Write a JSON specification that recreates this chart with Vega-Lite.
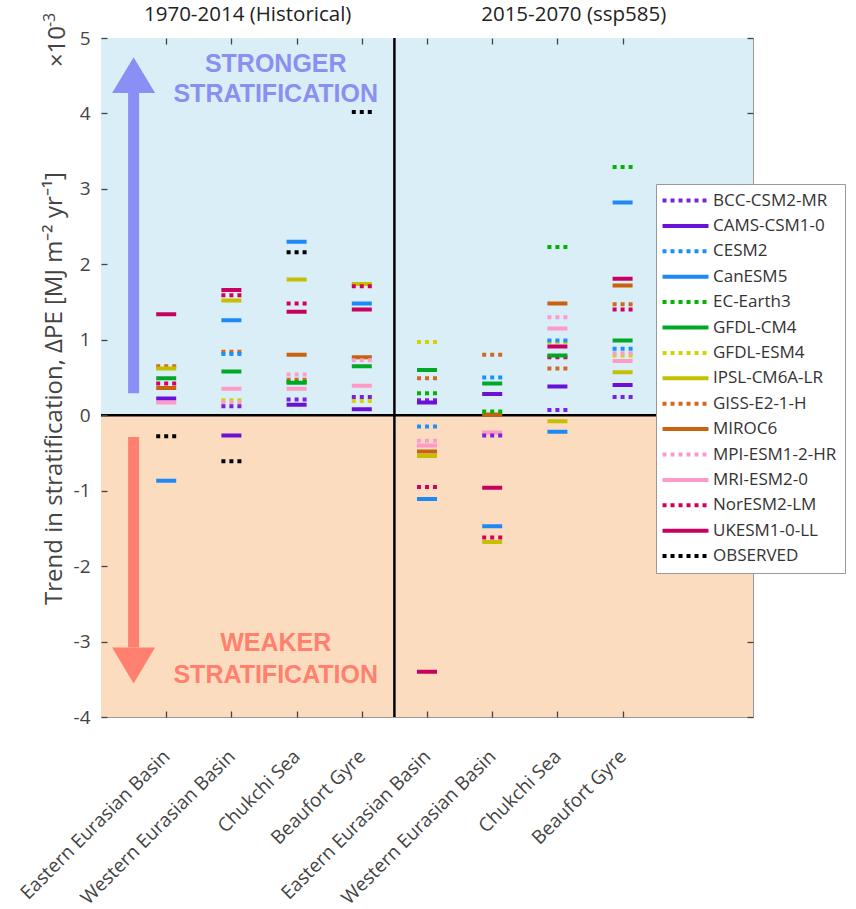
{
  "$schema": "https://vega.github.io/schema/vega-lite/v6.json",
  "width": 652,
  "height": 679,
  "autosize": {"type": "none"},
  "padding": {"left": 101, "top": 38, "right": 103, "bottom": 192},
  "background": "white",
  "config": {
    "view": {"stroke": "#999", "strokeWidth": 1},
    "font": "Open Sans",
    "axis": {"grid": false, "domain": false, "ticks": true, "tickColor": "#444", "tickWidth": 1.3, "tickSize": 6, "offset": -6, "zindex": 2}
  },
  "resolve": {"axis": {"x": "independent", "y": "independent"}},
  "layer": [
    {
      "data": {"values": [{"zone": "stronger", "lo": 0, "hi": 5}, {"zone": "weaker", "lo": -4, "hi": 0}]},
      "mark": {"type": "rect"},
      "encoding": {
        "x": {"datum": 0, "type": "quantitative", "scale": {"domain": [0, 10], "nice": false, "zero": false},
              "axis": {"orient": "top", "labels": false, "ticks": true, "tickSize": 6, "tickColor": "#444", "values": [1, 2, 3, 4, 5, 6, 7, 8], "title": null, "zindex": 2}},
        "x2": {"datum": 10},
        "y": {"field": "lo", "type": "quantitative", "scale": {"domain": [-4, 5], "nice": false},
              "axis": {"orient": "right", "labels": false, "ticks": true, "tickSize": 6, "tickColor": "#444", "values": [-4, -3, -2, -1, 0, 1, 2, 3, 4, 5], "title": null, "zindex": 2}},
        "y2": {"field": "hi"},
        "fill": {"field": "zone", "type": "nominal", "scale": {"domain": ["stronger", "weaker"], "range": ["#d9eef6", "#fcdcbf"]}, "legend": null}
      }
    },
    {
      "data": {"values": [{}]},
      "mark": {"type": "rule", "color": "black", "strokeWidth": 2.5},
      "encoding": {
        "x": {"datum": 4.5, "type": "quantitative", "axis": null},
        "y": {"datum": -4, "type": "quantitative", "axis": null},
        "y2": {"datum": 5}
      }
    },
    {
      "data": {"values": [{}]},
      "mark": {"type": "rule", "color": "black", "strokeWidth": 2.5},
      "encoding": {
        "x": {"datum": 0, "type": "quantitative", "axis": null},
        "x2": {"datum": 10},
        "y": {"datum": 0, "type": "quantitative", "axis": null}
      }
    },
    {
      "data": {"values": [{}]},
      "mark": {"type": "rule", "color": "#8a8ff5", "strokeWidth": 11, "strokeCap": "butt"},
      "encoding": {
        "x": {"datum": 0.5, "type": "quantitative", "axis": null},
        "y": {"datum": 0.29, "type": "quantitative", "axis": null},
        "y2": {"datum": 4.27}
      }
    },
    {
      "data": {"values": [{}]},
      "mark": {"type": "point", "shape": "M-1,0L1,0L0,-1.67Z", "size": 1849, "filled": true, "opacity": 1, "color": "#8a8ff5", "strokeWidth": 0},
      "encoding": {
        "x": {"datum": 0.5, "type": "quantitative", "axis": null},
        "y": {"datum": 4.27, "type": "quantitative", "axis": null}
      }
    },
    {
      "data": {"values": [{}]},
      "mark": {"type": "rule", "color": "#ff806e", "strokeWidth": 11, "strokeCap": "butt"},
      "encoding": {
        "x": {"datum": 0.5, "type": "quantitative", "axis": null},
        "y": {"datum": -0.29, "type": "quantitative", "axis": null},
        "y2": {"datum": -3.08}
      }
    },
    {
      "data": {"values": [{}]},
      "mark": {"type": "point", "shape": "M-1,0L1,0L0,1.67Z", "size": 1849, "filled": true, "opacity": 1, "color": "#ff806e", "strokeWidth": 0},
      "encoding": {
        "x": {"datum": 0.5, "type": "quantitative", "axis": null},
        "y": {"datum": -3.08, "type": "quantitative", "axis": null}
      }
    },
    {
      "data": {"values": [{}]},
      "mark": {"type": "text", "font": "Liberation Sans", "fontWeight": "bold", "fontSize": 25, "color": "#8a8ff0", "align": "center", "baseline": "middle", "lineHeight": 30},
      "encoding": {
        "x": {"datum": 2.68, "type": "quantitative", "axis": null},
        "y": {"datum": 4.66, "type": "quantitative", "axis": null},
        "text": {"value": ["STRONGER", "STRATIFICATION"]}
      }
    },
    {
      "data": {"values": [{}]},
      "mark": {"type": "text", "font": "Liberation Sans", "fontWeight": "bold", "fontSize": 25, "color": "#ff806e", "align": "center", "baseline": "middle", "lineHeight": 32},
      "encoding": {
        "x": {"datum": 2.68, "type": "quantitative", "axis": null},
        "y": {"datum": -3.02, "type": "quantitative", "axis": null},
        "text": {"value": ["WEAKER", "STRATIFICATION"]}
      }
    },
    {
      "data": {"values": [
        {"s": 1, "m": "UKESM1-0-LL", "v": 1.34},
        {"s": 1, "m": "GISS-E2-1-H", "v": 0.65},
        {"s": 1, "m": "IPSL-CM6A-LR", "v": 0.62},
        {"s": 1, "m": "GFDL-CM4", "v": 0.49},
        {"s": 1, "m": "NorESM2-LM", "v": 0.42},
        {"s": 1, "m": "MIROC6", "v": 0.36},
        {"s": 1, "m": "CAMS-CSM1-0", "v": 0.22},
        {"s": 1, "m": "MRI-ESM2-0", "v": 0.17},
        {"s": 1, "m": "OBSERVED", "v": -0.28},
        {"s": 1, "m": "CanESM5", "v": -0.87},
        {"s": 2, "m": "UKESM1-0-LL", "v": 1.66},
        {"s": 2, "m": "NorESM2-LM", "v": 1.59},
        {"s": 2, "m": "IPSL-CM6A-LR", "v": 1.52},
        {"s": 2, "m": "CanESM5", "v": 1.26},
        {"s": 2, "m": "GISS-E2-1-H", "v": 0.84},
        {"s": 2, "m": "CESM2", "v": 0.81},
        {"s": 2, "m": "GFDL-CM4", "v": 0.58},
        {"s": 2, "m": "MRI-ESM2-0", "v": 0.35},
        {"s": 2, "m": "GFDL-ESM4", "v": 0.20},
        {"s": 2, "m": "MPI-ESM1-2-HR", "v": 0.17},
        {"s": 2, "m": "BCC-CSM2-MR", "v": 0.12},
        {"s": 2, "m": "CAMS-CSM1-0", "v": -0.27},
        {"s": 2, "m": "OBSERVED", "v": -0.61},
        {"s": 3, "m": "CanESM5", "v": 2.30},
        {"s": 3, "m": "OBSERVED", "v": 2.16},
        {"s": 3, "m": "IPSL-CM6A-LR", "v": 1.80},
        {"s": 3, "m": "NorESM2-LM", "v": 1.48},
        {"s": 3, "m": "UKESM1-0-LL", "v": 1.37},
        {"s": 3, "m": "MIROC6", "v": 0.80},
        {"s": 3, "m": "MPI-ESM1-2-HR", "v": 0.54},
        {"s": 3, "m": "GISS-E2-1-H", "v": 0.47},
        {"s": 3, "m": "EC-Earth3", "v": 0.44},
        {"s": 3, "m": "GFDL-CM4", "v": 0.43},
        {"s": 3, "m": "MRI-ESM2-0", "v": 0.35},
        {"s": 3, "m": "BCC-CSM2-MR", "v": 0.21},
        {"s": 3, "m": "CAMS-CSM1-0", "v": 0.14},
        {"s": 4, "m": "OBSERVED", "v": 4.02},
        {"s": 4, "m": "IPSL-CM6A-LR", "v": 1.74},
        {"s": 4, "m": "NorESM2-LM", "v": 1.71},
        {"s": 4, "m": "CanESM5", "v": 1.48},
        {"s": 4, "m": "UKESM1-0-LL", "v": 1.40},
        {"s": 4, "m": "MIROC6", "v": 0.77},
        {"s": 4, "m": "MPI-ESM1-2-HR", "v": 0.73},
        {"s": 4, "m": "GFDL-CM4", "v": 0.65},
        {"s": 4, "m": "MRI-ESM2-0", "v": 0.39},
        {"s": 4, "m": "BCC-CSM2-MR", "v": 0.24},
        {"s": 4, "m": "GFDL-ESM4", "v": 0.19},
        {"s": 4, "m": "CAMS-CSM1-0", "v": 0.08},
        {"s": 5, "m": "GFDL-ESM4", "v": 0.97},
        {"s": 5, "m": "GFDL-CM4", "v": 0.60},
        {"s": 5, "m": "GISS-E2-1-H", "v": 0.49},
        {"s": 5, "m": "EC-Earth3", "v": 0.29},
        {"s": 5, "m": "BCC-CSM2-MR", "v": 0.20},
        {"s": 5, "m": "CAMS-CSM1-0", "v": 0.17},
        {"s": 5, "m": "CESM2", "v": -0.15},
        {"s": 5, "m": "MPI-ESM1-2-HR", "v": -0.34},
        {"s": 5, "m": "MRI-ESM2-0", "v": -0.40},
        {"s": 5, "m": "MIROC6", "v": -0.48},
        {"s": 5, "m": "IPSL-CM6A-LR", "v": -0.54},
        {"s": 5, "m": "NorESM2-LM", "v": -0.95},
        {"s": 5, "m": "CanESM5", "v": -1.11},
        {"s": 5, "m": "UKESM1-0-LL", "v": -3.40},
        {"s": 6, "m": "GISS-E2-1-H", "v": 0.80},
        {"s": 6, "m": "CESM2", "v": 0.50},
        {"s": 6, "m": "GFDL-CM4", "v": 0.42},
        {"s": 6, "m": "CAMS-CSM1-0", "v": 0.28},
        {"s": 6, "m": "MIROC6", "v": 0.01},
        {"s": 6, "m": "EC-Earth3", "v": 0.05},
        {"s": 6, "m": "MRI-ESM2-0", "v": -0.23},
        {"s": 6, "m": "BCC-CSM2-MR", "v": -0.27},
        {"s": 6, "m": "UKESM1-0-LL", "v": -0.96},
        {"s": 6, "m": "CanESM5", "v": -1.47},
        {"s": 6, "m": "IPSL-CM6A-LR", "v": -1.68},
        {"s": 6, "m": "NorESM2-LM", "v": -1.62},
        {"s": 7, "m": "EC-Earth3", "v": 2.23},
        {"s": 7, "m": "MIROC6", "v": 1.48},
        {"s": 7, "m": "MPI-ESM1-2-HR", "v": 1.30},
        {"s": 7, "m": "MRI-ESM2-0", "v": 1.15},
        {"s": 7, "m": "GFDL-ESM4", "v": 0.97},
        {"s": 7, "m": "CESM2", "v": 0.99},
        {"s": 7, "m": "UKESM1-0-LL", "v": 0.91},
        {"s": 7, "m": "NorESM2-LM", "v": 0.77},
        {"s": 7, "m": "GFDL-CM4", "v": 0.79},
        {"s": 7, "m": "GISS-E2-1-H", "v": 0.62},
        {"s": 7, "m": "CAMS-CSM1-0", "v": 0.38},
        {"s": 7, "m": "BCC-CSM2-MR", "v": 0.07},
        {"s": 7, "m": "IPSL-CM6A-LR", "v": -0.08},
        {"s": 7, "m": "CanESM5", "v": -0.22},
        {"s": 8, "m": "EC-Earth3", "v": 3.29},
        {"s": 8, "m": "CanESM5", "v": 2.82},
        {"s": 8, "m": "UKESM1-0-LL", "v": 1.81},
        {"s": 8, "m": "MIROC6", "v": 1.72},
        {"s": 8, "m": "GISS-E2-1-H", "v": 1.47},
        {"s": 8, "m": "NorESM2-LM", "v": 1.40},
        {"s": 8, "m": "GFDL-CM4", "v": 0.99},
        {"s": 8, "m": "CESM2", "v": 0.88},
        {"s": 8, "m": "GFDL-ESM4", "v": 0.79},
        {"s": 8, "m": "MPI-ESM1-2-HR", "v": 0.82},
        {"s": 8, "m": "MRI-ESM2-0", "v": 0.72},
        {"s": 8, "m": "IPSL-CM6A-LR", "v": 0.57},
        {"s": 8, "m": "CAMS-CSM1-0", "v": 0.40},
        {"s": 8, "m": "BCC-CSM2-MR", "v": 0.24}
      ]},
      "mark": {"type": "point", "shape": "M-4,0L4,0", "filled": false, "size": 25, "strokeWidth": 4, "opacity": 1, "strokeCap": "butt"},
      "encoding": {
        "x": {"field": "s", "type": "quantitative",
              "axis": {"orient": "bottom", "title": null, "values": [1, 2, 3, 4, 5, 6, 7, 8], "ticks": true, "tickSize": 6, "tickColor": "#444", "zindex": 2,
                       "labelExpr": "['','Eastern Eurasian Basin','Western Eurasian Basin','Chukchi Sea','Beaufort Gyre','Eastern Eurasian Basin','Western Eurasian Basin','Chukchi Sea','Beaufort Gyre'][datum.value]",
                       "labelAngle": -45, "labelAlign": "right", "labelBaseline": "middle", "labelPadding": 36,
                       "labelOverlap": false, "labelLimit": 0, "labelBound": false, "labelFlush": false,
                       "labelFontSize": 19, "labelColor": "#444", "labelFont": "Open Sans"}},
        "y": {"field": "v", "type": "quantitative",
              "axis": {"orient": "left", "values": [-4, -3, -2, -1, 0, 1, 2, 3, 4, 5], "ticks": true, "tickSize": 6, "tickColor": "#444", "zindex": 2,
                       "labelExpr": "datum.value < 0 ? '-' + abs(datum.value) : '' + datum.value",
                       "labelFontSize": 19, "labelColor": "#444", "labelPadding": 11, "labelOverlap": false,
                       "title": "Trend in stratification, ΔPE [MJ m⁻² yr⁻¹]",
                       "titleFontSize": 24, "titleFontWeight": "normal", "titleColor": "#444", "titleFont": "Open Sans",
                       "titleX": -53, "titleY": 350, "titleBaseline": "middle", "titleAngle": -90}},
        "color": {"field": "m", "type": "nominal",
                  "scale": {"domain": ["BCC-CSM2-MR", "CAMS-CSM1-0", "CESM2", "CanESM5", "EC-Earth3", "GFDL-CM4", "GFDL-ESM4", "IPSL-CM6A-LR", "GISS-E2-1-H", "MIROC6", "MPI-ESM1-2-HR", "MRI-ESM2-0", "NorESM2-LM", "UKESM1-0-LL", "OBSERVED"],
                            "range": ["#7b1fe3", "#6b10d6", "#1a8fff", "#1e88f5", "#00b400", "#00a825", "#d4d400", "#c4c000", "#d2691e", "#c8620c", "#ff9ccf", "#ff9ac8", "#d4005e", "#c8005f", "#000000"]},
                  "legend": {"title": null, "orient": "none", "legendX": 555, "legendY": 146, "zindex": 5,
                             "fillColor": "white", "strokeColor": "#999", "padding": 8,
                             "labelFontSize": 17, "labelFont": "Open Sans", "labelColor": "#333",
                             "symbolType": "M-4,0L4,0", "symbolSize": 132, "symbolStrokeWidth": 4,
                             "symbolOffset": 13, "labelOffset": 19, "rowPadding": 7.4, "symbolFillColor": "transparent"}},
        "strokeDash": {"field": "m", "type": "nominal",
                       "scale": {"domain": ["BCC-CSM2-MR", "CAMS-CSM1-0", "CESM2", "CanESM5", "EC-Earth3", "GFDL-CM4", "GFDL-ESM4", "IPSL-CM6A-LR", "GISS-E2-1-H", "MIROC6", "MPI-ESM1-2-HR", "MRI-ESM2-0", "NorESM2-LM", "UKESM1-0-LL", "OBSERVED"],
                                 "range": [[4, 4], [1, 0], [4, 4], [1, 0], [4, 4], [1, 0], [4, 4], [1, 0], [4, 4], [1, 0], [4, 4], [1, 0], [4, 4], [1, 0], [4, 4]]},
                       "legend": {"title": null, "orient": "none", "legendX": 555, "legendY": 146, "zindex": 5,
                                  "fillColor": "white", "strokeColor": "#999", "padding": 8,
                                  "labelFontSize": 17, "labelFont": "Open Sans", "labelColor": "#333",
                                  "symbolType": "M-4,0L4,0", "symbolSize": 132, "symbolStrokeWidth": 4,
                                  "symbolOffset": 13, "labelOffset": 19, "rowPadding": 7.4, "symbolFillColor": "transparent"}}
      }
    },
    {
      "data": {"values": [{}]},
      "mark": {"type": "text", "fontSize": 20.5, "color": "#222", "align": "center", "baseline": "middle"},
      "encoding": {
        "x": {"datum": 2.25, "type": "quantitative", "axis": null},
        "y": {"datum": 5.3, "type": "quantitative", "axis": null},
        "text": {"value": "1970-2014 (Historical)"}
      }
    },
    {
      "data": {"values": [{}]},
      "mark": {"type": "text", "fontSize": 20.5, "color": "#222", "align": "center", "baseline": "middle"},
      "encoding": {
        "x": {"datum": 7.25, "type": "quantitative", "axis": null},
        "y": {"datum": 5.3, "type": "quantitative", "axis": null},
        "text": {"value": "2015-2070 (ssp585)"}
      }
    },
    {
      "data": {"values": [{}]},
      "mark": {"type": "text", "fontSize": 24, "color": "#444", "align": "center", "baseline": "middle", "angle": 270},
      "encoding": {
        "x": {"datum": -0.66, "type": "quantitative", "axis": null},
        "y": {"datum": 4.887, "type": "quantitative", "axis": null},
        "text": {"value": "×10"}
      }
    },
    {
      "data": {"values": [{}]},
      "mark": {"type": "text", "fontSize": 16, "color": "#444", "align": "center", "baseline": "middle", "angle": 270},
      "encoding": {
        "x": {"datum": -0.785, "type": "quantitative", "axis": null},
        "y": {"datum": 5.24, "type": "quantitative", "axis": null},
        "text": {"value": "-3"}
      }
    }
  ]
}
